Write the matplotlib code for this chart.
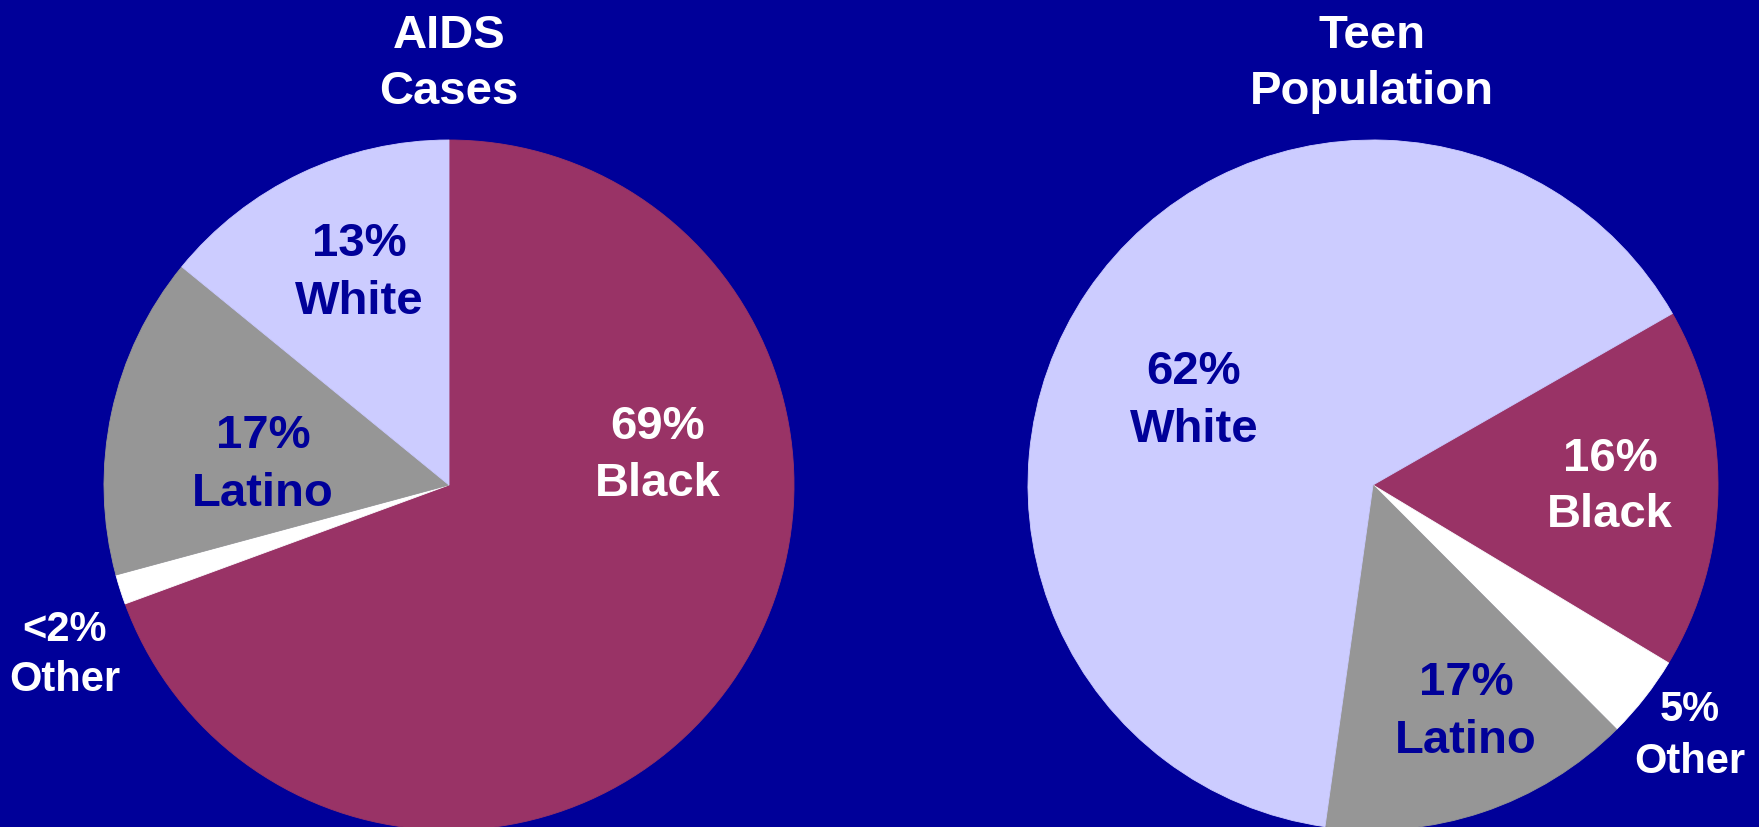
"""Two pie charts: AIDS cases vs teen population by race/ethnicity."""

import matplotlib

matplotlib.use("Agg")

import matplotlib.pyplot as plt

W, H = 1759, 827
BG = "#000099"
FONT = ["Liberation Sans", "DejaVu Sans"]

categories = ["Black", "Other", "Latino", "White"]
colors = ["#993366", "#ffffff", "#969696", "#ccccff"]

# wedge sizes as drawn (clockwise order), and the printed labels
aids_values = [69.4, 1.4, 15.1, 14.1]
aids_labels = ["69%\nBlack", "<2%\nOther", "17%\nLatino", "13%\nWhite"]
teen_values = [16.9, 3.9, 14.7, 64.5]
teen_labels = ["16%\nBlack", "5%\nOther", "17%\nLatino", "62%\nWhite"]

titles = ["AIDS\nCases", "Teen\nPopulation"]

# layout in image pixels (y measured from the top)
PIES = [
    dict(values=aids_values, labels=aids_labels, center=(449, 485), start=90,
         title_x=449,
         label_xy=[(658, 439), (65, 641), (263, 448), (359, 256)],
         label_color=["white", "white", BG, BG],
         label_size=[34, 30, 34, 34],
         label_gap=[57, 50, 58, 58]),
    dict(values=teen_values, labels=teen_labels, center=(1373, 485), start=29.8,
         title_x=1372,
         label_xy=[(1610, 471), (1690, 721), (1466, 695), (1194, 384)],
         label_color=["white", "white", BG, BG],
         label_size=[34, 30, 34, 34],
         label_gap=[56, 52, 58, 58]),
]
RADIUS = 345


def yy(y):
    return H - y


fig = plt.figure(figsize=(W / 100, H / 100), dpi=100)
fig.patch.set_facecolor(BG)
ax = fig.add_axes([0, 0, 1, 1])
ax.set_facecolor(BG)

for pie, title in zip(PIES, titles):
    cx, cy = pie["center"]
    wedges, _ = ax.pie(
        pie["values"],
        colors=colors,
        startangle=pie["start"],
        counterclock=False,
        center=(cx, yy(cy)),
        radius=RADIUS,
        wedgeprops=dict(linewidth=0.6),
        frame=True,
    )
    for w in wedges:
        w.set_edgecolor(w.get_facecolor())
    for i, line in enumerate(title.split("\n")):
        ax.text(pie["title_x"], yy(47.5 + 57 * i), line, ha="center", va="baseline",
                color="white", fontsize=34, fontweight="bold", family=FONT)
    for label, (lx, ly), col, size, gap in zip(
        pie["labels"], pie["label_xy"], pie["label_color"], pie["label_size"], pie["label_gap"]
    ):
        for i, line in enumerate(label.split("\n")):
            ax.text(lx, yy(ly + gap * i), line, ha="center", va="baseline",
                    color=col, fontsize=size, fontweight="bold", family=FONT)

ax.set_xlim(0, W)
ax.set_ylim(0, H)
ax.set_aspect("auto")
ax.axis("off")

fig.savefig("out.png", dpi=100, facecolor=BG)
